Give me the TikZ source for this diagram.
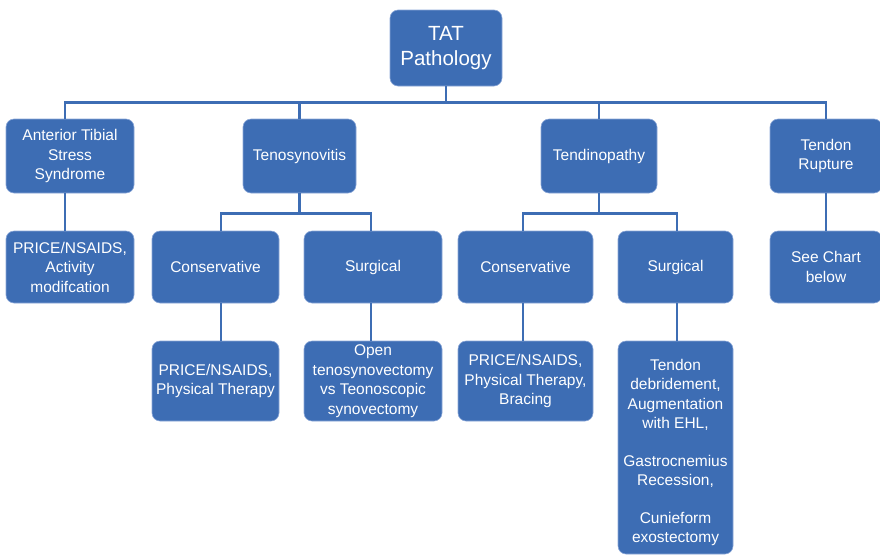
\documentclass[tikz,border=0pt]{standalone}
\usepackage{fontspec}
\setmainfont{Liberation Sans}
\definecolor{tatblue}{HTML}{3D6DB4}
\definecolor{tatedge}{HTML}{8CA8D8}
\begin{document}
\begin{tikzpicture}[x=1pt,y=-1pt,
   box/.style={fill=tatblue,draw=tatedge,line width=0.6pt,rounded corners=8pt,
      text=white,align=center,inner sep=2pt,font=\fontsize{15.5}{19.5}\selectfont},
   boxtext/.style={text=white,align=center,inner sep=0pt,font=\fontsize{15.5}{19.5}\selectfont},
   link/.style={draw=tatblue,line width=2.5pt}]
   \useasboundingbox (0,0) rectangle (880,555);
   \clip (0,0) rectangle (880,555);
   % top
   \node[box,minimum width=112pt,minimum height=76pt,font=\fontsize{20.5}{25}\selectfont] (tat) at (446,48) {TAT\\Pathology};
   % first row
   \node[box,minimum width=128pt,minimum height=74pt] (ats) at (70,156) {Anterior Tibial\\Stress\\Syndrome};
   \node[box,minimum width=113pt,minimum height=74pt] (teno) at (299.5,156) {Tenosynovitis};
   \node[box,minimum width=116pt,minimum height=74pt] (tendi) at (599,156) {Tendinopathy};
   \node[box,minimum width=112pt,minimum height=74pt] (rupt) at (826,156) {Tendon\\Rupture};
   % second row
   \node[box,minimum width=128pt,minimum height=72pt] (atstx) at (70,267) {PRICE/NSAIDS,\\Activity\\modifcation};
   \node[box,minimum width=127pt,minimum height=72pt] (tcons) at (215.5,267) {Conservative};
   \node[box,minimum width=138pt,minimum height=72pt] (tsurg) at (373,267) {Surgical};
   \node[box,minimum width=135pt,minimum height=72pt] (dcons) at (525.5,267) {Conservative};
   \node[box,minimum width=115pt,minimum height=72pt] (dsurg) at (675.5,267) {Surgical};
   \node[box,minimum width=112pt,minimum height=72pt] (chart) at (826,267) {See Chart\\below};
   % third row
   \node[box,minimum width=127pt,minimum height=80pt] (tconstx) at (215.5,381) {PRICE/NSAIDS,\\Physical Therapy};
   \node[box,minimum width=138pt,minimum height=80pt] (tsurgtx) at (373,381) {Open\\tenosynovectomy\\vs Teonoscopic\\synovectomy};
   \node[box,minimum width=135pt,minimum height=80pt] (dconstx) at (525.5,381) {PRICE/NSAIDS,\\Physical Therapy,\\Bracing};
   \node[box,minimum width=115pt,minimum height=213pt,
      label={[boxtext,yshift=-5pt]center:{Tendon\\debridement,\\Augmentation\\with EHL,\\[18pt]Gastrocnemius\\Recession,\\[18pt]Cunieform\\exostectomy}}] (dsurgtx) at (675.5,447.5) {};
   % connectors
   \draw[link] (tat.south) -- ++(0,16) coordinate (bus);
   \draw[link] (bus) -| ([xshift=-5pt]ats.north);
   \foreach \n in {teno,tendi,rupt}
      \draw[link] (bus) -| (\n.north);
   \draw[link] (teno.south) -- ++(0,20) coordinate (tbus);
   \draw[link] (tbus) -| ([xshift=5.5pt]tcons.north);
   \draw[link] (tbus) -| ([xshift=-2pt]tsurg.north);
   \draw[link] (tendi.south) -- ++(0,20) coordinate (dbus);
   \draw[link] (dbus) -| ([xshift=-2.5pt]dcons.north);
   \draw[link] (dbus) -| ([xshift=1.5pt]dsurg.north);
   \draw[link] ([xshift=-5pt]ats.south) -- ([xshift=-5pt]atstx.north);
   \draw[link] (rupt.south) -- (chart.north);
   \draw[link] ([xshift=5.5pt]tcons.south) -- ([xshift=5.5pt]tconstx.north);
   \draw[link] ([xshift=-2pt]tsurg.south) -- ([xshift=-2pt]tsurgtx.north);
   \draw[link] ([xshift=-2.5pt]dcons.south) -- ([xshift=-2.5pt]dconstx.north);
   \draw[link] ([xshift=1.5pt]dsurg.south) -- ([xshift=1.5pt]dsurgtx.north);
\end{tikzpicture}
\end{document}
